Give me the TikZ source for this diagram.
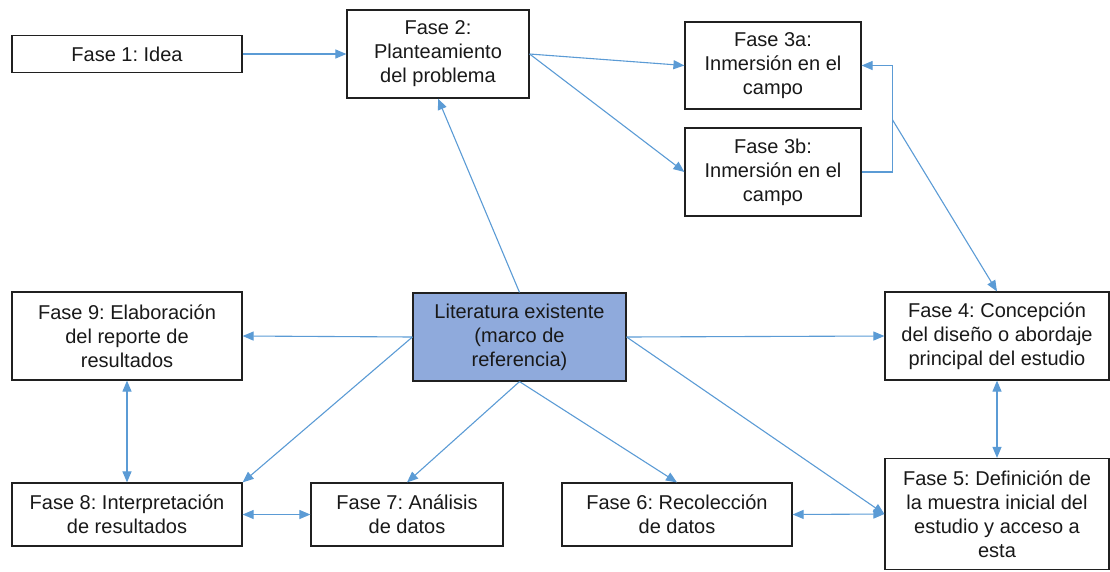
\documentclass[tikz,border=0pt]{standalone}
\usepackage{fontspec}
\setmainfont{Liberation Sans}
\usetikzlibrary{arrows.meta}
\definecolor{conn}{HTML}{5B9BD5}
\definecolor{litfill}{HTML}{8FAADC}
\definecolor{boxline}{HTML}{202020}
\frenchspacing
\tikzset{
  phase/.style={draw=boxline, line width=1.2pt, fill=white, align=center, inner sep=0pt,
    font=\fontsize{20}{24}\selectfont, text=black!90},
  conline/.style={draw=conn, line width=1.1pt},
  tip/.style={conline, -{Triangle[length=11pt,width=9pt]}},
  tips/.style={conline, {Triangle[length=11pt,width=9pt]}-{Triangle[length=11pt,width=9pt]}}
}
\begin{document}
\begin{tikzpicture}[x=1pt,y=-1pt]
\useasboundingbox (0,0) rectangle (1110,571);
\node[phase, minimum width=230, minimum height=37] (f1) at (127,54) {Fase 1: Idea};
\node[phase, minimum width=182, minimum height=88] (f2) at (438,54) {Fase 2:\\Planteamiento\\del problema};
\node[phase, minimum width=176, minimum height=87] (f3a) at (773,65.5) {Fase 3a:\\Inmersión en el\\campo};
\node[phase, minimum width=176, minimum height=88] (f3b) at (773,172) {Fase 3b:\\Inmersión en el\\campo};
\node[phase, minimum width=230, minimum height=88] (f9) at (127,336) {Fase 9: Elaboración\\del reporte de\\resultados};
\node[phase, fill=litfill, minimum width=213, minimum height=88] (lit) at (519.5,337) {Literatura existente\\(marco de\\referencia)};
\node[phase, minimum width=224, minimum height=88] (f4) at (997,336) {Fase 4: Concepción\\del diseño o abordaje\\principal del estudio};
\node[phase, minimum width=230, minimum height=63] (f8) at (127,514.5) {Fase 8: Interpretación\\de resultados};
\node[phase, minimum width=192, minimum height=63] (f7) at (407,514.5) {Fase 7: Análisis\\de datos};
\node[phase, minimum width=230, minimum height=63] (f6) at (677,514.5) {Fase 6: Recolección\\de datos};
\node[phase, minimum width=224, minimum height=111] (f5) at (997,514) {Fase 5: Definición de\\la muestra inicial del\\estudio y acceso a\\esta};
\coordinate (j) at ([xshift=31pt]f3b.east |- 0,120);
\draw[tip] (f1.east) -- (f2.west);
\draw[tip] (f2.east) -- (f3a.west);
\draw[tip] (f2.east) -- (f3b.west);
\draw[tip] (f3b.east) -- ++(31,0) |- (f3a.east);
\draw[tip] (j) -- (f4.north);
\draw[tip] (lit.north) -- (f2.south);
\draw[tip] (lit.west) -- (f9.east);
\draw[tip] (lit.east) -- (f4.west);
\draw[tip] (lit.west) -- (f8.north east);
\draw[tip] (lit.south) -- (f7.north);
\draw[tip] (lit.south) -- (f6.north);
\draw[tip] (lit.east) -- (f5.west);
\draw[tips] (f9.south) -- (f8.north);
\draw[tips] (f8.east) -- (f7.west);
\draw[tips] (f6.east) -- (f5.west);
\draw[tips] (f4.south) -- (f5.north);
\end{tikzpicture}
\end{document}
